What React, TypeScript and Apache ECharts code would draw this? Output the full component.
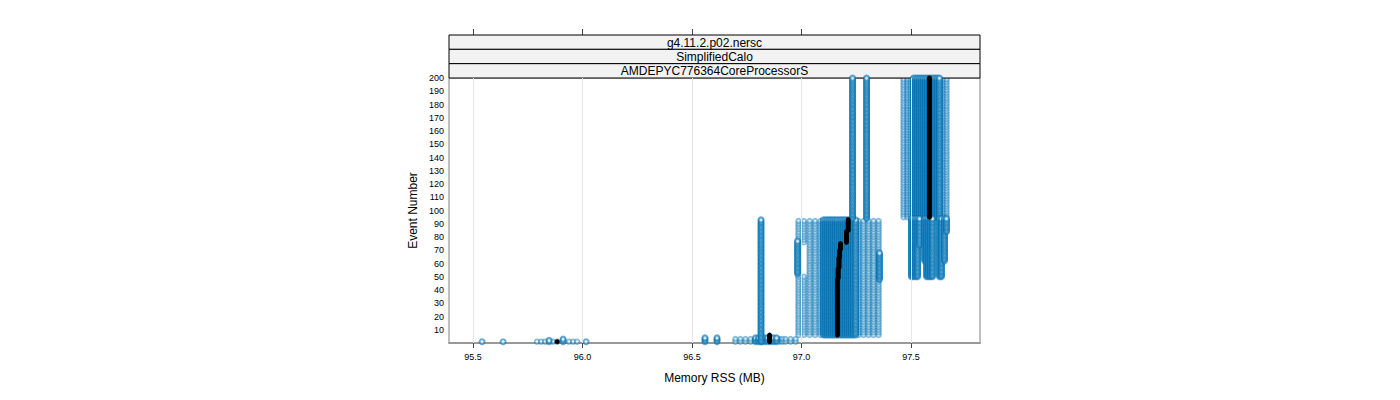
import React, { useEffect, useRef } from "react";
import * as echarts from "echarts";

// Tick positions
const xTicks = [95.5, 96.0, 96.5, 97.0, 97.5];

// Strip labels (top to bottom)
const stripLabels = ["g4.11.2.p02.nersc", "SimplifiedCalo", "AMDEPYC776364CoreProcessorS"];

// Dense (frequently hit) memory values: x (MB), first event, last event
const denseX = [
  95.541, 95.637, 95.847, 95.911, 96.016, 96.559, 96.614,
  96.79, 96.804, 96.817, 96.831, 96.845, 96.858, 96.872, 96.886,
  96.815,
  97.1, 97.11, 97.119, 97.128, 97.137, 97.146, 97.155, 97.164, 97.174, 97.183,
  97.192, 97.201, 97.21, 97.219, 97.228, 97.237, 97.247,
  96.982, 97.356, 97.233, 97.297,
  97.511, 97.521, 97.53, 97.539, 97.548, 97.557, 97.566, 97.575, 97.584, 97.594,
  97.603, 97.612, 97.621, 97.63,
  97.502, 97.511, 97.521, 97.53, 97.539, 97.562, 97.571, 97.58, 97.589, 97.598,
  97.63, 97.639, 97.653, 97.662,
];
const denseFrom = [
  1, 1, 1, 1, 1, 1, 1,
  1, 1, 1, 1, 1, 1, 1, 1,
  1,
  6, 6, 6, 6, 6, 6, 6, 6, 6, 6,
  6, 6, 6, 6, 6, 6, 6,
  52, 48, 94, 94,
  95, 95, 95, 95, 95, 95, 95, 95, 95, 95,
  95, 95, 95, 95,
  50, 50, 50, 50, 74, 62, 50, 50, 50, 50,
  50, 50, 62, 84,
];
const denseTo = [
  1, 1, 2, 3, 1, 4, 4,
  4, 4, 4, 4, 4, 4, 4, 4,
  93,
  93, 93, 93, 93, 93, 93, 93, 93, 93, 93,
  93, 93, 93, 93, 93, 93, 93,
  77, 68, 200, 200,
  200, 200, 200, 200, 200, 200, 200, 200, 200, 200,
  200, 200, 200, 200,
  94, 94, 94, 94, 94, 94, 94, 94, 94, 94,
  94, 94, 94, 94,
];

// Sparse (lightly hit, every other event) memory values: x (MB), first event, last event
const lightX = [
  95.792, 95.811, 95.829, 95.865, 95.884, 95.938, 95.957, 95.975,
  96.698, 96.721, 96.744, 96.767, 96.9, 96.913, 96.927, 96.95, 96.973,
  96.986, 96.986, 97.011, 97.011, 97.037, 97.062, 97.087,
  97.26, 97.283, 97.306, 97.329, 97.352,
  97.466, 97.484, 97.498, 97.648, 97.662,
];
const lightFrom = [
  1, 1, 1, 1, 1, 1, 1, 1,
  1, 1, 1, 1, 1, 1, 1, 1, 1,
  6, 76, 6, 76, 6, 6, 6,
  6, 6, 6, 6, 6,
  95, 95, 95, 95, 95,
];
const lightTo = [
  1, 1, 1, 1, 1, 1, 1, 1,
  4, 4, 4, 4, 4, 4, 4, 4, 4,
  51, 93, 51, 93, 93, 93, 93,
  93, 93, 93, 93, 93,
  200, 200, 200, 200, 200,
];

// Median memory per event (black)
const medX = [95.884, 96.854, 97.164, 97.167, 97.171, 97.174, 97.178, 97.205, 97.213, 97.584];
const medFrom = [1, 1, 6, 49, 57, 65, 71, 76, 85, 95];
const medTo = [1, 6, 48, 56, 64, 70, 75, 84, 93, 200];

function expand(xs: number[], from: number[], to: number[], step = 1) {
  const out: number[][] = [];
  for (let i = 0; i < xs.length; i++) {
    for (let e = from[i]; e <= to[i]; e += step) out.push([xs[i], e]);
  }
  return out;
}

const FONT = "Liberation Sans, Arial, Helvetica, sans-serif";

export default function App() {
  const ref = useRef<HTMLDivElement>(null);
  useEffect(() => {
    document.body.style.margin = "0";
    const chart = echarts.init(ref.current!, null, { renderer: "svg" });
    const L = 449, R = 980, T = 78, B = 343;
    const stripTop = 35;
    const stripH = (T - stripTop) / 3;
    const graphics: any[] = [];
    stripLabels.forEach((s, i) => {
      graphics.push({
        type: "rect",
        shape: { x: L, y: stripTop + i * stripH, width: R - L, height: stripH },
        style: { fill: "#f2f2f2", stroke: "#000", lineWidth: 1 },
        z: 10,
      });
      graphics.push({
        type: "text",
        x: (L + R) / 2,
        y: stripTop + i * stripH + stripH / 2 + 0.5,
        style: { text: s, fontSize: 12, fontFamily: FONT, fill: "#000", align: "center", verticalAlign: "middle" },
        z: 11,
      });
    });
    graphics.push({
      type: "text",
      x: (L + R) / 2,
      y: 378,
      style: { text: "Memory RSS (MB)", fontSize: 12, fontFamily: FONT, fill: "#000", align: "center", verticalAlign: "middle" },
    });
    graphics.push({
      type: "text",
      x: 413,
      y: (T + B) / 2,
      rotation: Math.PI / 2,
      style: { text: "Event Number", fontSize: 12, fontFamily: FONT, fill: "#000", align: "center", verticalAlign: "middle" },
    });

    const blue = "#0072B2";
    chart.setOption({
      animation: false,
      grid: { left: L, right: 1400 - R, top: T, bottom: 400 - B, show: true, borderColor: "#808080", borderWidth: 1 },
      xAxis: [
        {
          type: "value",
          min: 95.39,
          max: 97.815,
          position: "bottom",
          axisLine: { show: true, lineStyle: { color: "#999", width: 2 } },
          axisTick: { show: true, customValues: xTicks, length: 5, lineStyle: { color: "#444" } },
          axisLabel: { customValues: xTicks, formatter: (v: number) => v.toFixed(1), fontSize: 9, color: "#000", margin: 9, fontFamily: FONT },
          splitLine: { show: false },
        },
        {
          type: "value",
          min: 95.39,
          max: 97.815,
          position: "top",
          offset: T - stripTop,
          axisLine: { show: false },
          axisTick: { show: true, customValues: xTicks, length: 6, lineStyle: { color: "#444" } },
          axisLabel: { show: false },
          splitLine: { show: false },
        },
      ],
      yAxis: {
        type: "value",
        min: 0,
        max: 200,
        interval: 10,
        axisLine: { show: false },
        axisTick: { show: false },
        axisLabel: { fontSize: 9, color: "#000", margin: 5, fontFamily: FONT, formatter: (v: number) => (v === 0 ? "" : String(v)) },
        splitLine: { show: false },
      },
      graphic: graphics,
      series: [
        {
          type: "line",
          data: [],
          z: 1,
          silent: true,
          markLine: {
            silent: true,
            symbol: ["none", "none"],
            label: { show: false },
            lineStyle: { color: "#e6e6e6", type: "solid", width: 1 },
            data: xTicks.map((v) => ({ xAxis: v })),
          },
        },
        {
          type: "scatter",
          data: expand(lightX, lightFrom, lightTo, 2),
          symbol: "emptyCircle",
          symbolSize: 4.5,
          progressive: 0,
          silent: true,
          itemStyle: { color: blue, borderColor: blue, borderWidth: 1, opacity: 0.45 },
          z: 2,
        },
        {
          type: "scatter",
          data: expand(denseX, denseFrom, denseTo),
          symbol: "emptyCircle",
          symbolSize: 5,
          progressive: 0,
          silent: true,
          itemStyle: { color: blue, borderColor: blue, borderWidth: 1, opacity: 0.6 },
          z: 3,
        },
        {
          type: "scatter",
          data: expand(medX, medFrom, medTo),
          symbol: "circle",
          symbolSize: 5,
          progressive: 0,
          silent: true,
          itemStyle: { color: "#000", opacity: 1 },
          z: 4,
        },
      ],
    });
    return () => chart.dispose();
  }, []);
  return <div ref={ref} style={{ width: 1400, height: 400 }} />;
}
